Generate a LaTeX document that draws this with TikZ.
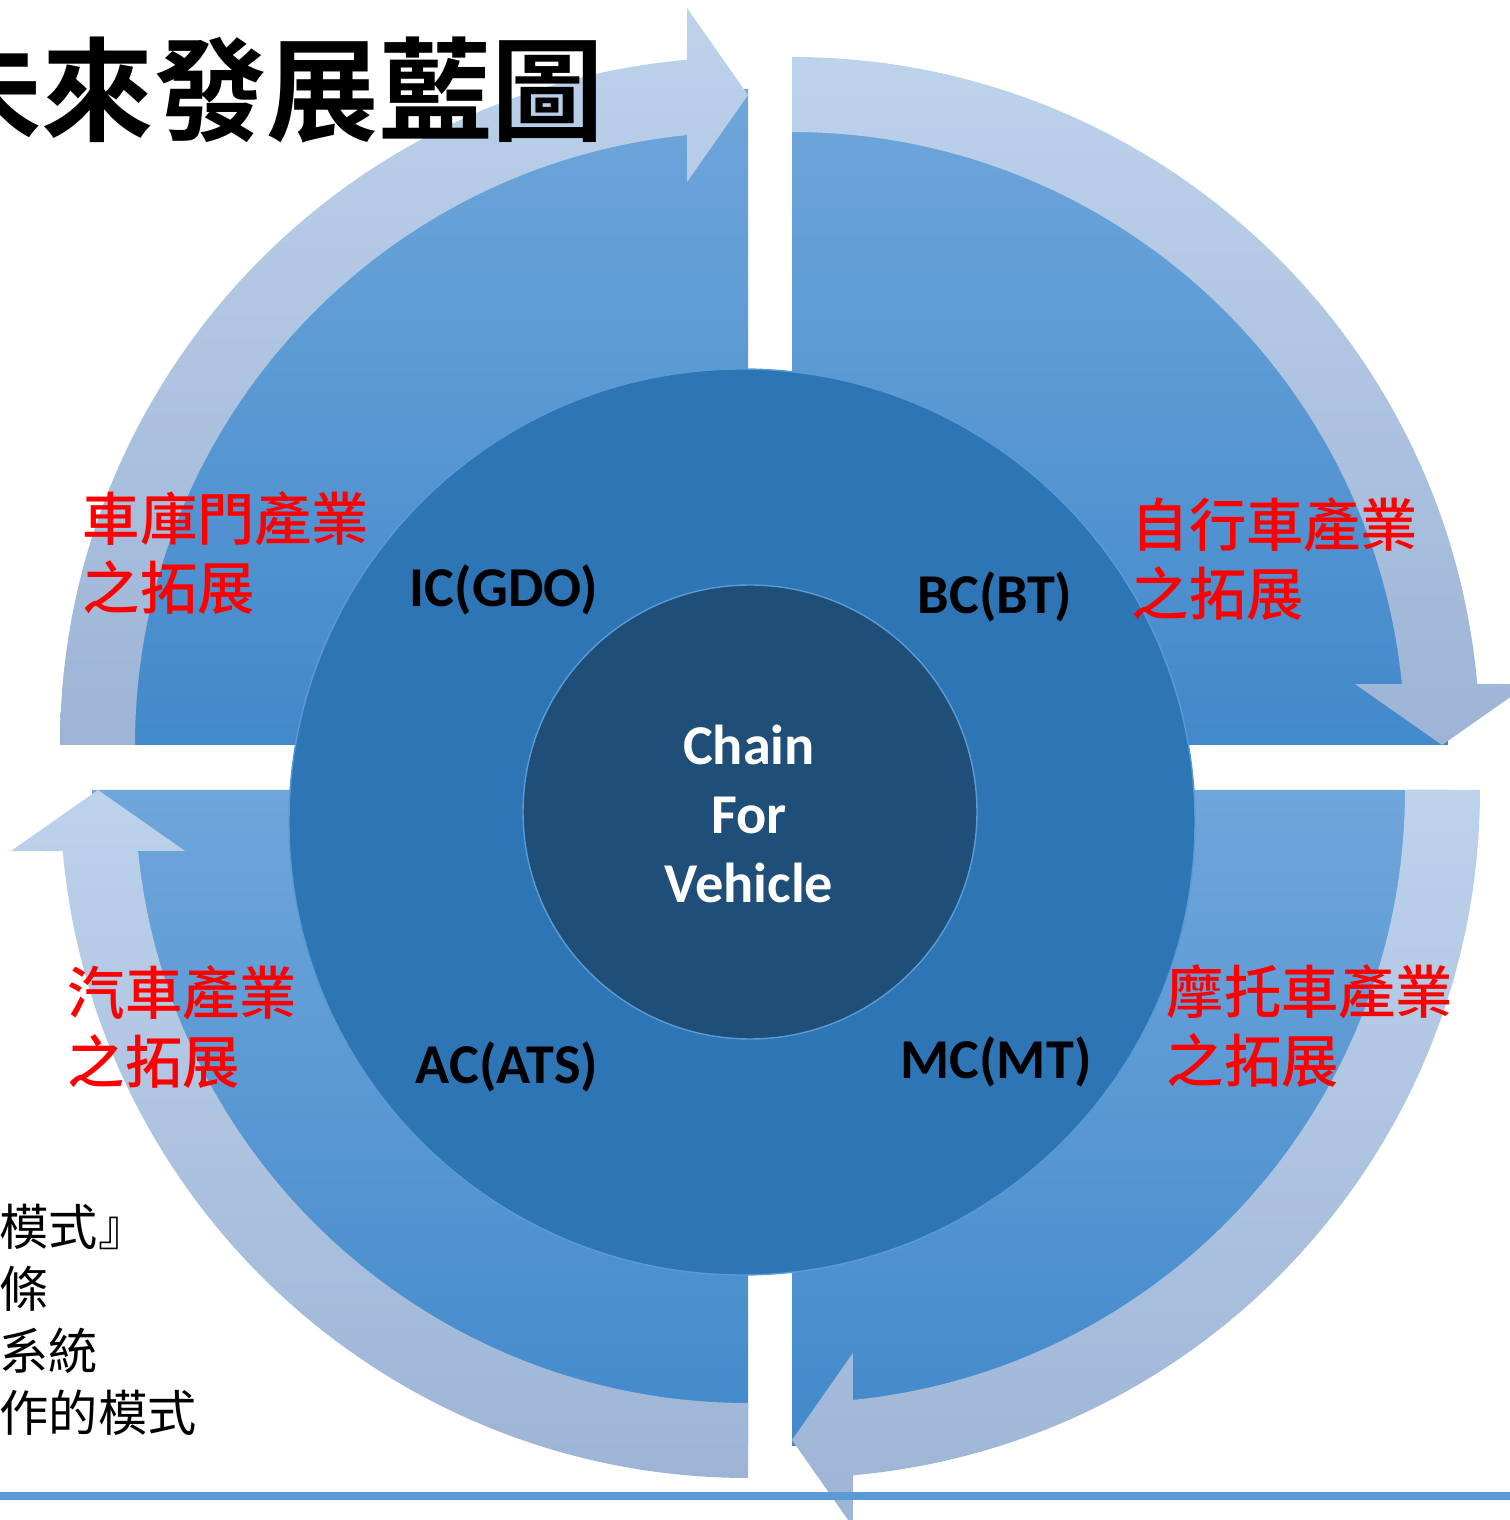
\documentclass[tikz,border=0pt]{standalone}
\usepackage{fontspec}
\setmainfont{Carlito}
\newfontfamily\cjk{Noto Sans CJK TC}[BoldFont={Noto Sans CJK TC Bold}]
\newfontfamily\cjkmed{Noto Sans CJK TC Medium}

\definecolor{bandtop}{RGB}{189,210,235}
\definecolor{bandbot}{RGB}{157,180,214}
\definecolor{wedgetop}{RGB}{111,166,219}
\definecolor{wedgebot}{RGB}{66,137,203}
\definecolor{ringblue}{RGB}{46,117,182}
\definecolor{hubblue}{RGB}{31,78,121}
\definecolor{rimblue}{RGB}{91,155,213}

\tikzset{
	band/.style={top color=bandtop,bottom color=bandbot},
	wedge/.style={top color=wedgetop,bottom color=wedgebot},
	core/.style={font=\fontsize{16pt}{19.6pt}\selectfont\bfseries,inner sep=0pt},
	sector/.style={font=\cjkmed\fontsize{16.3pt}{19.6pt}\selectfont,text=red,align=left,inner sep=0pt,anchor=west}
}

\newcommand{\CycleQuadrant}[2][0]{%
\begin{scope}[shift={#2}]
\shade[wedge] (0,0)--({180+(#1)}:656) arc[start angle=180+(#1),end angle=90+(#1),radius=656]--cycle;
\shade[band]
	({180+(#1)}:688) arc[start angle=180+(#1),end angle=95.09+(#1),radius=688]--
	({94.73+(#1)}:739.5)--({90+(#1)}:650)--({96.18+(#1)}:566.3)--
	({95.71+(#1)}:613) arc[start angle=95.71+(#1),end angle=180+(#1),radius=613]--cycle;
\end{scope}}

\begin{document}
\begin{tikzpicture}[x=0.01cm,y=0.01cm]
\useasboundingbox (0,0) rectangle (1510,1520);
\CycleQuadrant{(748,775)}
\CycleQuadrant[-90]{(792,775)}
\CycleQuadrant[-180]{(792,730)}
\CycleQuadrant[-270]{(748,730)}
\filldraw[fill=ringblue,draw=rimblue,line width=.4pt] (742,698) circle[radius=453];
\filldraw[fill=hubblue,draw=rimblue,line width=.4pt] (750,708) circle[radius=227];
\node[core,text=white,align=center] (hub) at (749,706) {Chain\\For\\Vehicle};
\node[core] (gdo) at (504,930) {IC(GDO)};
\node[core] (bt) at (995,923) {BC(BT)};
\node[core] (ats) at (507,453) {AC(ATS)};
\node[core] (mt) at (996,458) {MC(MT)};
\node[sector] (garage) at (82,967) {車庫門產業\\之拓展};
\node[sector] (bicycle) at (1131,961) {自行車產業\\之拓展};
\node[sector] (auto) at (67,493) {汽車產業\\之拓展};
\node[sector] (motor) at (1166,494) {摩托車產業\\之拓展};
\node[font=\cjk\bfseries\fontsize{32pt}{32pt}\selectfont,anchor=east,inner sep=0pt] (title) at (605,1430) {未來發展藍圖};
\node[font=\cjk\fontsize{14pt}{17.6pt}\selectfont,anchor=west,align=left,inner sep=0pt] (note) at (-1,200) {模式』\\條\\系統\\作的模式};
\fill[rimblue] (0,20) rectangle (1510,28);
\end{tikzpicture}
\end{document}
